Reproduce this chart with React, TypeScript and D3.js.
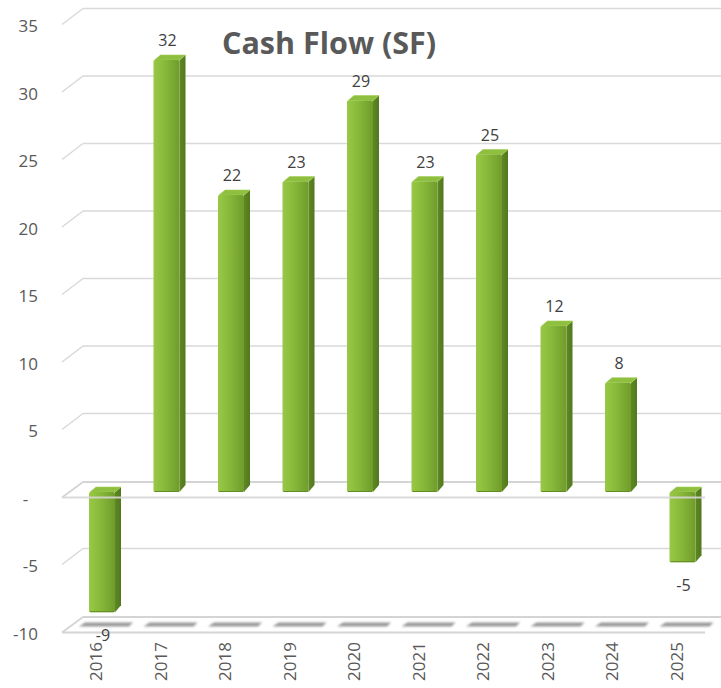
import React from "react";
import * as d3 from "d3";

const years = ["2016", "2017", "2018", "2019", "2020", "2021", "2022", "2023", "2024", "2025"];
const cashFlow = [-8.9, 32, 22, 23, 29, 23, 25, 12.3, 8.1, -5.2];
const yTicks = [35, 30, 25, 20, 15, 10, 5, 0, -5, -10];
const title = "Cash Flow (SF)";

const W = 721;
const H = 688;

export default function App() {
  const y = d3.scaleLinear().domain([-10, 35]).range([630, 22.5]);
  const x = d3.scaleBand<string>().domain(years).range([69.75, 714.75]).padding(0);
  const barW = 26;
  const depthX = 6;
  const depthY = 5;
  const wallLeft = 62;
  const wallBack = 83;
  const backOff = 14;
  const frontOff = 2;
  const barOff = 3;
  const hyphen = (s: string) => s.replace("\u2212", "-");
  const fmtLabel = (v: number) => hyphen(d3.format(".0f")(v));
  const fmtTick = (v: number) => (v === 0 ? "-\u2007" : hyphen(d3.format("d")(v)));

  const barX = (yr: string) => (x(yr) as number) + (x.step() - barW) / 2;
  const yb = (v: number) => y(v) - barOff;

  const gridTicks = yTicks.filter((t) => t !== 0 && t !== -10);
  const planes = [0, -10];

  return (
    <svg
      width={W}
      height={H}
      style={{ position: "absolute", left: 0, top: 0, background: "#fff" }}
      fontFamily="'Open Sans', 'Noto Sans', sans-serif"
    >
      <defs>
        <linearGradient id="front" x1="0" x2="1" y1="0" y2="0">
          <stop offset="0" stopColor="#98c845" />
          <stop offset="0.4" stopColor="#8aba3b" />
          <stop offset="1" stopColor="#6f9c2b" />
        </linearGradient>
        <linearGradient id="side" x1="0" x2="1" y1="0" y2="0">
          <stop offset="0" stopColor="#5e8823" />
          <stop offset="1" stopColor="#52781e" />
        </linearGradient>
        <filter id="blur" x="-20%" y="-100%" width="140%" height="300%">
          <feGaussianBlur stdDeviation="1.2" />
        </filter>
      </defs>

      {/* back wall gridlines */}
      {gridTicks.map((t) => (
        <g key={"g" + t} stroke="#d9d9d9" strokeWidth={1.5} fill="none">
          <line x1={wallBack} x2={W} y1={y(t) - backOff} y2={y(t) - backOff} />
          <line x1={wallLeft} y1={y(t) + frontOff} x2={wallBack} y2={y(t) - backOff} />
        </g>
      ))}

      {/* planes at 0 and -10 (back edges) */}
      {planes.map((t) => (
        <g key={"p" + t} stroke="#d4d4d4" strokeWidth={1.8} fill="none">
          <line x1={wallBack} x2={W} y1={y(t) - backOff + 1} y2={y(t) - backOff + 1} />
          <line x1={wallLeft} y1={y(t) + frontOff + 0.5} x2={wallBack} y2={y(t) - backOff + 1} />
        </g>
      ))}
      {/* floor front edge */}
      <line x1={wallLeft} x2={705} y1={y(-10) + frontOff + 0.5} y2={y(-10) + frontOff + 0.5} stroke="#d4d4d4" strokeWidth={1.8} />

      {/* floor shadows */}
      {years.map((yr) => {
        const cx = barX(yr) + barW / 2 + 3;
        const sy = y(-10) - 6;
        return (
          <path
            key={"s" + yr}
            d={`M${cx - 26},${sy + 2.5} L${cx - 20},${sy - 1.5} L${cx + 28},${sy - 1.5} L${cx + 24},${sy + 2.5} Z`}
            fill="#9a9a9a"
            filter="url(#blur)"
          />
        );
      })}

      {/* bars */}
      {years.map((yr, i) => {
        const v = cashFlow[i];
        const x0 = barX(yr);
        const top = yb(Math.max(v, 0));
        const bot = yb(Math.min(v, 0));
        return (
          <g key={"b" + yr}>
            <path
              d={`M${x0 + barW},${top} L${x0 + barW + depthX},${top - depthY} L${x0 + barW + depthX},${bot - depthY - 2} L${x0 + barW},${bot} Z`}
              fill="url(#side)"
            />
            <path
              d={`M${x0 + 1},${top} L${x0 + depthX + 1},${top - depthY} L${x0 + barW + depthX},${top - depthY} L${x0 + barW},${top} Z`}
              fill="#8fbf3f"
              stroke="#a2cf55"
              strokeWidth={0.6}
              strokeLinejoin="round"
            />
            <rect x={x0} y={top} width={barW} height={bot - top} rx={1.5} fill="url(#front)" />
            <line x1={x0 + 1} x2={x0 + barW - 1} y1={bot - 0.5} y2={bot - 0.5} stroke="#628b25" strokeWidth={1} />
          </g>
        );
      })}

      {/* zero plane front edge (crosses negative bars) */}
      <line x1={wallLeft} x2={705} y1={y(0) + frontOff + 0.5} y2={y(0) + frontOff + 0.5} stroke="#d6d6d6" strokeWidth={1.8} opacity={0.9} />

      {/* data labels */}
      {years.map((yr, i) => {
        const v = cashFlow[i];
        const cx = barX(yr) + barW / 2 + 1;
        const ly = v >= 0 ? yb(v) - 14 : yb(v) + 29;
        return (
          <text key={"l" + yr} x={cx} y={ly} textAnchor="middle" fontSize={16} fill="#404040">
            {fmtLabel(v)}
          </text>
        );
      })}

      {/* y axis labels */}
      {yTicks.map((t) => (
        <text key={"t" + t} x={38} y={y(t) + 9.5} textAnchor="end" fontSize={17} fill="#595959">
          {fmtTick(t)}
        </text>
      ))}

      {/* category labels */}
      {years.map((yr) => {
        const cx = barX(yr) + barW / 2 - 6;
        return (
          <text
            key={"c" + yr}
            transform={`translate(${cx + 6},${642}) rotate(-90)`}
            textAnchor="end"
            fontSize={17}
            fill="#595959"
          >
            {yr}
          </text>
        );
      })}

      {/* title */}
      <text x={222} y={54} fontSize={30.5} fontWeight="bold" fill="#595959">
        {title}
      </text>
    </svg>
  );
}
